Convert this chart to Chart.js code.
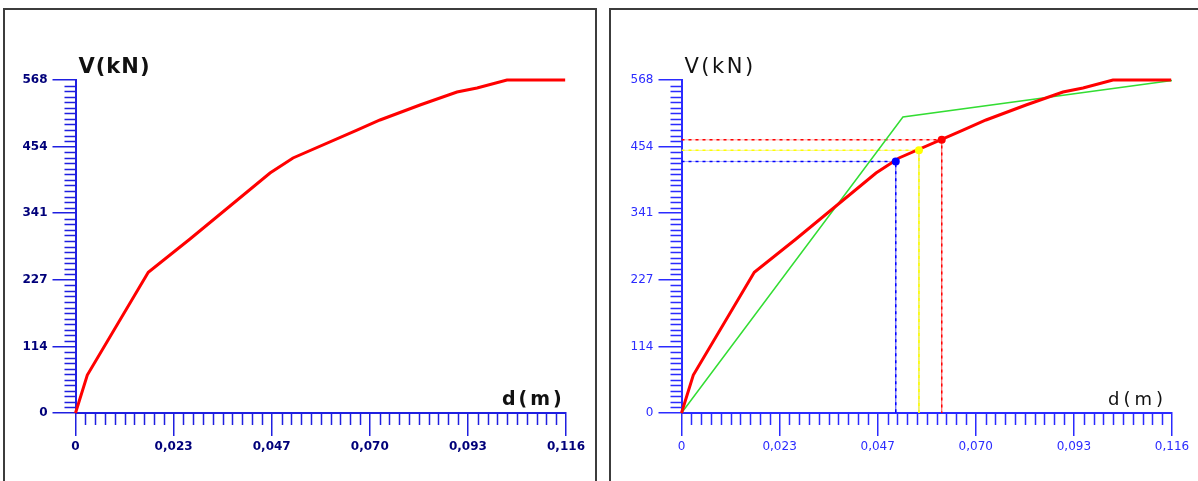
<!DOCTYPE html>
<html>
<head>
<meta charset="utf-8">
<script src="https://cdn.jsdelivr.net/npm/chart.js@4.4.0/dist/chart.umd.min.js"></script>
<style>
  body { margin: 0; background: #fff; width: 1198px; height: 481px; overflow: hidden; position: relative; }
  .panel { position: absolute; top: 8px; height: 480px; border: 2px solid #3c3c3c; border-bottom: none; }
  #p1 { left: 3px; width: 590px; }
  #p2 { left: 609px; width: 600px; }
  canvas { position: absolute; top: 0; }
</style>
</head>
<body>
<div class="panel" id="p1"></div>
<div class="panel" id="p2"></div>
<canvas id="c1" width="600" height="481" style="left:0;width:600px;height:481px"></canvas>
<canvas id="c2" width="600" height="481" style="left:606px;width:600px;height:481px"></canvas>
<script>
// axis ranges and tick labels
const dMax = 0.1163;
const vMax = 568;
const xTickLabels = ['0', '0,023', '0,047', '0,070', '0,093', '0,116'];
const yTickLabels = ['0', '114', '227', '341', '454', '568'];

// capacity curve d (m) / V (kN)
const curveD = [0, 0.0028, 0.01726, 0.02715, 0.04612, 0.05157, 0.06674, 0.0722, 0.08168, 0.09045, 0.0952, 0.1023, 0.1161];
const curveV = [0, 64.8, 240, 296.8, 409.4, 435, 482.7, 499.8, 525.4, 547.5, 554.4, 568, 568];

// bilinear idealisation (right chart)
const bilinD = [0, 0.0525, 0.1163];
const bilinV = [0, 505, 567];

// performance points (right chart)
const pointD = [0.0508, 0.0563, 0.0617];
const pointV = [429, 448, 466];
const pointColors = ['#0000ff', '#ffff00', '#ff0000'];
const pointPale = ['rgba(0,0,255,0.3)', 'rgba(230,230,0,0.45)', 'rgba(255,0,0,0.3)'];

function xy(ds, vs) {
  return ds.map((d, i) => ({ x: d, y: vs[i] }));
}

const axisExtras = {
  id: 'axisExtras',
  afterDraw(chart, args, o) {
    const { ctx, chartArea, scales: { x, y } } = chart;
    ctx.save();
    ctx.strokeStyle = o.axisColor;
    ctx.lineWidth = 1.5;
    ctx.beginPath();
    for (let i = 1; i < 50; i++) {
      if (i % 10 === 0) continue;
      const px = Math.round(x.getPixelForValue(dMax * i / 50)) + 0.5;
      ctx.moveTo(px, chartArea.bottom);
      ctx.lineTo(px, chartArea.bottom + 12);
    }
    for (let i = 1; i < 60; i++) {
      if (i % 12 === 0) continue;
      const py = Math.round(y.getPixelForValue(vMax * i / 60)) + 0.5;
      ctx.moveTo(chartArea.left, py);
      ctx.lineTo(chartArea.left - 11, py);
    }
    ctx.stroke();

    ctx.fillStyle = '#111';
    ctx.textBaseline = 'alphabetic';
    ctx.textAlign = 'left';
    ctx.font = o.yTitleFont;
    ctx.letterSpacing = o.yTitleSpacing;
    ctx.fillText('V(kN)', chartArea.left + 3, 73);
    ctx.font = o.xTitleFont;
    ctx.letterSpacing = o.xTitleSpacing;
    ctx.fillText('d(m)', chartArea.right - 64, 405);
    ctx.restore();
  }
};

function makeChart(id, right) {
  const axisColor = right ? '#2b2bff' : '#1f1fe0';
  const tickFont = right
    ? { family: 'DejaVu Sans', size: 12 }
    : { family: 'DejaVu Sans', size: 12, weight: 'bold' };
  const tickColor = right ? '#2b2bff' : '#00007a';

  const datasets = [{
    data: xy(curveD, curveV),
    showLine: true,
    borderColor: '#ff0000',
    borderWidth: 3,
    pointRadius: 0,
    clip: false,
    order: 1
  }];

  if (right) {
    datasets.push({
      data: xy(bilinD, bilinV),
      showLine: true,
      borderColor: '#33dd33',
      borderWidth: 1.5,
      pointRadius: 0,
      clip: false,
      order: 2
    });
    pointD.forEach((d, i) => {
      const guide = [{ x: 0, y: pointV[i] }, { x: d, y: pointV[i] }, { x: d, y: 0 }];
      datasets.push({
        data: guide,
        showLine: true,
        borderColor: pointPale[i],
        borderWidth: 1,
        pointRadius: 0,
        order: 4
      });
      datasets.push({
        data: guide,
        showLine: true,
        borderColor: pointColors[i],
        borderWidth: 1.5,
        borderDash: [3, 4],
        pointRadius: 0,
        order: 3
      });
    });
    datasets.push({
      data: xy(pointD, pointV),
      showLine: false,
      pointRadius: 4,
      pointBorderWidth: 0,
      pointBackgroundColor: pointColors,
      order: 0
    });
  }

  return new Chart(document.getElementById(id), {
    type: 'scatter',
    data: { datasets },
    options: {
      responsive: false,
      animation: false,
      layout: { padding: { top: 80, right: 34, bottom: 28, left: 0 } },
      plugins: {
        legend: { display: false },
        tooltip: { enabled: false },
        axisExtras: {
          axisColor,
          yTitleFont: right ? '21px "DejaVu Sans"' : 'bold 21px "DejaVu Sans"',
          yTitleSpacing: right ? '2.5px' : '1px',
          xTitleFont: right ? '18px "DejaVu Sans"' : 'bold 19px "DejaVu Sans"',
          xTitleSpacing: right ? '4px' : '3px'
        }
      },
      scales: {
        x: {
          type: 'linear',
          min: 0,
          max: dMax,
          afterFit: s => { s.height = 40; },
          afterBuildTicks: s => { s.ticks = xTickLabels.map((t, i) => ({ value: dMax * i / 5 })); },
          grid: { drawOnChartArea: false, tickLength: 23, color: axisColor, lineWidth: 1.5 },
          border: { display: true, color: axisColor, width: 2 },
          ticks: {
            autoSkip: false, maxRotation: 0, padding: 4,
            font: tickFont, color: tickColor,
            callback: (v, i) => xTickLabels[i]
          }
        },
        y: {
          type: 'linear',
          min: 0,
          max: vMax,
          afterFit: s => { s.width = 75.5; },
          afterBuildTicks: s => { s.ticks = yTickLabels.map((t, i) => ({ value: vMax * i / 5 })); },
          grid: { drawOnChartArea: false, tickLength: 23, color: axisColor, lineWidth: 1.5 },
          border: { display: true, color: axisColor, width: 2 },
          ticks: {
            autoSkip: false, padding: 5,
            font: tickFont, color: tickColor,
            callback: (v, i) => yTickLabels[i]
          }
        }
      }
    },
    plugins: [axisExtras]
  });
}

makeChart('c1', false);
makeChart('c2', true);
</script>
</body>
</html>
